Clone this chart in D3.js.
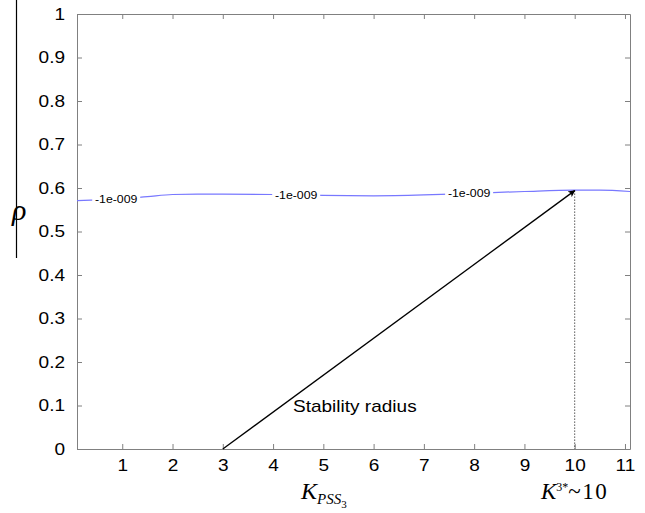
<!DOCTYPE html>
<html>
<meta charset="utf-8">
<style>
  body { margin: 0; background: #fff; }
  .tick text, .lbl { font-family: "Liberation Sans", Arial, sans-serif; fill: #000; }
  .math { font-family: "Liberation Serif", "Times New Roman", serif; fill: #000; }
</style>
<body>
<script src="https://d3js.org/d3.v7.min.js"></script>
<script>
  let width = 645,
    height = 513;

  // contour line (rho level)
  let curveK = [0.1, 1, 1.5, 2, 2.5, 3, 4, 5, 6, 7, 8, 9, 10, 10.5, 11.1];
  let curveRho = [0.571, 0.575, 0.580, 0.585, 0.586, 0.586, 0.585, 0.583, 0.582, 0.584, 0.588, 0.592, 0.595, 0.595, 0.592];
  // contour labels
  let labelK = [0.88, 4.46, 7.9];
  let labelText = "-1e-009";
  // ticks
  let xTicks = [1, 2, 3, 4, 5, 6, 7, 8, 9, 10, 11];
  let yTicks = [0, 0.1, 0.2, 0.3, 0.4, 0.5, 0.6, 0.7, 0.8, 0.9, 1];
  // stability radius arrow
  let arrowFrom = [3, 0];
  let arrowTo = [10, 0.594];

  let sx = 1.12; // horizontal stretch of the original figure text

  let plotLeft = 77, plotRight = 630, plotTop = 14, plotBottom = 449;

  let x = d3.scaleLinear().domain([0.1, 11.1]).range([plotLeft, plotRight]);
  let y = d3.scaleLinear().domain([0, 1]).range([plotBottom, plotTop]);

  let svg = d3.select("body").append("svg")
    .attr("width", width)
    .attr("height", height);

  function stretchText(sel) {
    sel.each(function() {
      let t = d3.select(this);
      let tx = +t.attr("x") || 0;
      t.attr("transform", `translate(${tx * (1 - sx)},0) scale(${sx},1)`);
    });
  }

  // axes with inward ticks (MATLAB style)
  let axB = svg.append("g").attr("transform", `translate(0,${plotBottom})`)
    .call(d3.axisBottom(x).tickValues(xTicks).tickSizeInner(-5).tickSizeOuter(0).tickPadding(10).tickFormat(d3.format("d")));
  let axT = svg.append("g").attr("transform", `translate(0,${plotTop})`)
    .call(d3.axisTop(x).tickValues(xTicks).tickSizeInner(-5).tickSizeOuter(0).tickFormat(""));
  let axL = svg.append("g").attr("transform", `translate(${plotLeft},0)`)
    .call(d3.axisLeft(y).tickValues(yTicks).tickSizeInner(-5).tickSizeOuter(0).tickPadding(12).tickFormat(d => d === 0 || d === 1 ? d3.format("d")(d) : d3.format(".1f")(d)));
  let axR = svg.append("g").attr("transform", `translate(${plotRight},0)`)
    .call(d3.axisRight(y).tickValues(yTicks).tickSizeInner(-5).tickSizeOuter(0).tickFormat(""));

  svg.selectAll(".domain").attr("stroke", "#808080");
  svg.selectAll(".tick line").attr("stroke", "#808080");
  svg.selectAll(".tick text").attr("font-size", 17).attr("font-family", "Liberation Sans, Arial, sans-serif");

  axB.selectAll(".tick text").attr("transform", `scale(${sx},1)`);
  axL.selectAll(".tick text").each(function() {
    let g = d3.select(this);
    let tx = +g.attr("x");
    g.attr("transform", `translate(${tx * (1 - sx)},0) scale(${sx},1)`);
  });

  // contour line
  let line = d3.line().x((d, i) => x(curveK[i])).y(d => y(d)).curve(d3.curveMonotoneX);
  svg.append("path")
    .datum(curveRho)
    .attr("d", line)
    .attr("fill", "none")
    .attr("stroke", "#7878ff")
    .attr("stroke-width", 1.2);

  let rhoAt = d3.scaleLinear().domain(curveK).range(curveRho);

  // inline contour labels
  labelK.forEach(k => {
    let cx = x(k), cy = y(rhoAt(k));
    svg.append("rect")
      .attr("x", cx - 24).attr("y", cy - 6)
      .attr("width", 48).attr("height", 12)
      .attr("fill", "#fff");
    svg.append("text")
      .attr("class", "lbl")
      .attr("x", cx).attr("y", cy + 4)
      .attr("text-anchor", "middle")
      .attr("font-size", 11)
      .text(labelText)
      .call(stretchText);
  });

  // arrow
  svg.append("defs").append("marker")
    .attr("id", "head")
    .attr("viewBox", "0 0 10 10")
    .attr("refX", 9).attr("refY", 5)
    .attr("markerWidth", 9).attr("markerHeight", 7)
    .attr("markerUnits", "userSpaceOnUse")
    .attr("orient", "auto")
    .append("path")
    .attr("d", "M0,0 L10,5 L0,10 L2.5,5 z")
    .attr("fill", "#000");

  svg.append("line")
    .attr("x1", x(arrowFrom[0])).attr("y1", y(arrowFrom[1]))
    .attr("x2", x(arrowTo[0])).attr("y2", y(arrowTo[1]))
    .attr("stroke", "#000")
    .attr("stroke-width", 1.3)
    .attr("marker-end", "url(#head)");

  // dotted drop line
  svg.append("line")
    .attr("x1", x(arrowTo[0])).attr("y1", y(arrowTo[1]))
    .attr("x2", x(arrowTo[0])).attr("y2", y(0))
    .attr("stroke", "#000")
    .attr("stroke-width", 1)
    .attr("stroke-dasharray", "1,2");

  svg.append("text")
    .attr("class", "lbl")
    .attr("x", 293).attr("y", 412)
    .attr("font-size", 17)
    .text("Stability radius")
    .call(stretchText);

  // y label with vertical rule
  svg.append("line")
    .attr("x1", 16.5).attr("y1", 0)
    .attr("x2", 16.5).attr("y2", 258)
    .attr("stroke", "#000")
    .attr("stroke-width", 1.2);
  svg.append("text")
    .attr("class", "math")
    .attr("x", 12).attr("y", 220)
    .attr("font-size", 30)
    .attr("font-style", "italic")
    .text("ρ");

  // x label K_PSS3
  let kl = svg.append("text").attr("class", "math").attr("font-style", "italic");
  kl.append("tspan").attr("x", 301).attr("y", 499).attr("font-size", 24).text("K");
  kl.append("tspan").attr("dy", 5).attr("font-size", 15).text("PSS");
  kl.append("tspan").attr("dy", 4).attr("font-size", 11).attr("font-style", "normal").text("3");

  // K^{3*} ~ 10
  let kr = svg.append("text").attr("class", "math");
  kr.append("tspan").attr("x", 541).attr("y", 499).attr("font-size", 23).attr("font-style", "italic").text("K");
  kr.append("tspan").attr("dy", -8).attr("font-size", 12).text("3*");
  kr.append("tspan").attr("dy", 8).attr("font-size", 23).attr("letter-spacing", 1.5).text("~10");
</script>
</body>
</html>
